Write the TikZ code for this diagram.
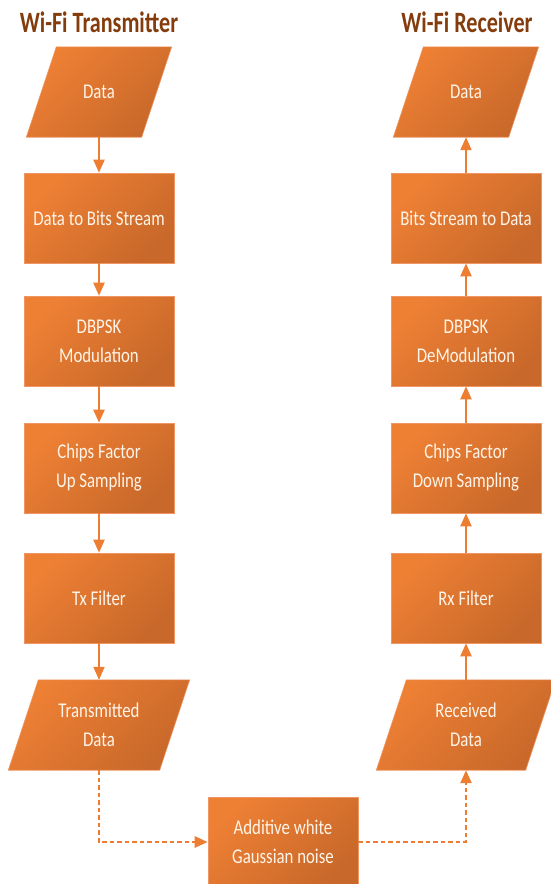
\documentclass[tikz,border=0pt]{standalone}
\usepackage{fontspec}
\setmainfont{Carlito}[FakeStretch=0.8]
\newfontfamily\titlefont{Carlito}[FakeStretch=0.75,BoldFont=* Bold]
\usepackage{tikz}
\usetikzlibrary{arrows.meta,backgrounds}
\definecolor{wfTop}{RGB}{238,128,52}
\definecolor{wfBot}{RGB}{200,104,42}
\definecolor{wfLine}{RGB}{240,150,100}
\definecolor{wfArrow}{RGB}{237,125,49}
\definecolor{wfTitle}{RGB}{132,60,12}
\definecolor{wfText}{RGB}{255,244,232}
\tikzset{>={Triangle[length=13pt,width=11pt]},
  shadefill/.style={draw=wfLine,line width=0.6pt,top color=wfTop,bottom color=wfBot,
    shading angle=45},
  boxtext/.style={text=wfText,align=center,font=\fontsize{21}{29}\selectfont,
    rectangle,minimum height=90pt,inner sep=0pt},
  stagebox/.style={boxtext,shadefill,minimum width=150pt},
  iobox/.style={boxtext},% parallelogram is shaded behind it
  flow/.style={->,wfArrow,line width=2pt},
  noiseflow/.style={flow,line width=2.5pt,dash pattern=on 4.5pt off 3pt},
  headline/.style={text=wfTitle,font=\titlefont\bfseries\fontsize{29.5}{32}\selectfont}
}
\begin{document}
\begin{tikzpicture}[x=1pt,y=-1pt]
  \useasboundingbox (0,0) rectangle (550,884);

  % titles
  \node[headline,anchor=base] (txhead) at (99,32) {Wi-Fi Transmitter};
  \node[headline,anchor=base] (rxhead) at (467,32) {Wi-Fi Receiver};

  % transmitter column
  \node[iobox,minimum width=115pt] (tx1) at (99,92) {Data};
  \node[stagebox] (tx2) at (99,218) {Data to Bits Stream};
  \node[stagebox] (tx3) at (99,341) {DBPSK\\Modulation};
  \node[stagebox] (tx4) at (99,468) {Chips Factor\\Up Sampling};
  \node[stagebox] (tx5) at (99,598) {Tx Filter};
  \node[iobox,minimum width=151pt] (tx6) at (99,725) {Transmitted\\Data};

  % receiver column
  \node[iobox,minimum width=115pt] (rx1) at (466,92) {Data};
  \node[stagebox] (rx2) at (466,218) {Bits Stream to Data};
  \node[stagebox] (rx3) at (466,341) {DBPSK\\DeModulation};
  \node[stagebox] (rx4) at (466,468) {Chips Factor\\Down Sampling};
  \node[stagebox] (rx5) at (466,598) {Rx Filter};
  \node[iobox,minimum width=149pt] (rx6) at (466,725) {Received\\Data};

  % channel
  \node[stagebox] (awgn) at (283,842) {Additive white\\Gaussian noise};

  % slanted data shapes
  \begin{scope}[on background layer]
    \foreach \n in {tx1,tx6,rx1,rx6}
      \shade[shadefill] ([xshift=15pt]\n.north west) -- ([xshift=15pt]\n.north east)
        -- ([xshift=-15pt]\n.south east) -- ([xshift=-15pt]\n.south west) -- cycle;
  \end{scope}

  \foreach \a/\b in {1/2,2/3,3/4,4/5,5/6}{
    \draw[flow] (tx\a) -- (tx\b);
    \draw[flow] (rx\b) -- (rx\a);
  }
  \draw[noiseflow] (tx6.south) |- (awgn.west);
  \draw[noiseflow] (awgn.east) -| (rx6.south);
\end{tikzpicture}
\end{document}
